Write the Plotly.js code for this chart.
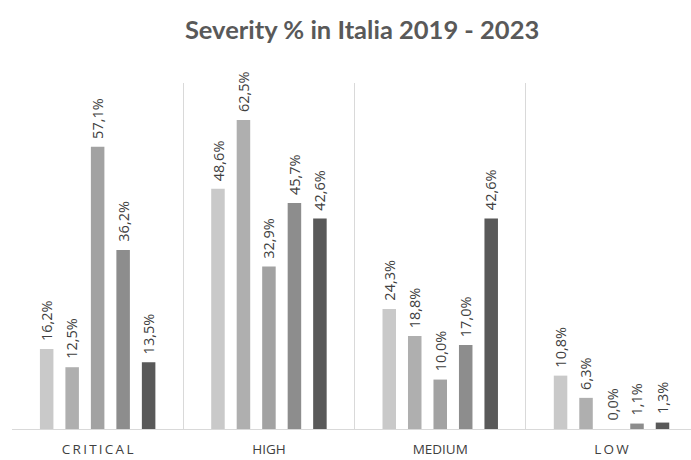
<!DOCTYPE html>
<html>
<head>
<meta charset="utf-8">
<script src="https://cdn.plot.ly/plotly-3.0.1.min.js"></script>
<style>html,body{margin:0;padding:0;background:#fff;}#chart{width:691px;height:460px;}</style>
</head>
<body>
<div id="chart"></div>
<script>
// Data
const categories = ["CRITICAL", "HIGH", "MEDIUM", "LOW"];
const tickLabels = ["C\u2009R\u2009I\u2009T\u2009I\u2009C\u2009A\u2009L", "HIGH", "MEDIUM", "L\u2009O\u2009W"];
const years = ["2019", "2020", "2021", "2022", "2023"];
const v2019 = [16.2, 48.6, 24.3, 10.8];
const v2020 = [12.5, 62.5, 18.8, 6.3];
const v2021 = [57.1, 32.9, 10.0, 0.0];
const v2022 = [36.2, 45.7, 17.0, 1.1];
const v2023 = [13.5, 42.6, 42.6, 1.3];
const series = [v2019, v2020, v2021, v2022, v2023];
const colors = ["#c9c9c9", "#afafaf", "#a2a2a2", "#8d8d8d", "#595959"];

const bargap = 0.256;
const fmt = v => v.toFixed(1).replace('.', ',') + '%';

const traces = series.map((vals, i) => ({
  type: 'bar',
  name: years[i],
  x: categories,
  y: vals,
  marker: {color: colors[i], line: {width: 0}},
  hoverinfo: 'none'
}));

const slot = (1 - bargap) / series.length;
const annotations = [];
series.forEach((vals, s) => {
  vals.forEach((v, c) => {
    annotations.push({
      x: c + (s - (series.length - 1) / 2) * slot,
      y: v,
      xref: 'x', yref: 'y',
      text: fmt(v),
      showarrow: false,
      textangle: -90,
      xanchor: 'center',
      yanchor: 'bottom',
      yshift: 6,
      font: {family: 'Open Sans, sans-serif', size: 14.5, color: '#404040'}
    });
  });
});

const layout = {
  width: 691, height: 460,
  margin: {l: 12, r: 0, t: 83, b: 31},
  paper_bgcolor: '#ffffff', plot_bgcolor: '#ffffff',
  showlegend: false,
  separators: ',.',
  bargap: bargap,
  bargroupgap: 0.47,
  title: {
    text: '<b>Severity % in Italia 2019 - 2023</b>',
    font: {family: 'Lato, sans-serif', size: 25.5, color: '#595959'},
    x: 0.524, xref: 'container', xanchor: 'center',
    y: 0.935, yref: 'container', yanchor: 'middle'
  },
  xaxis: {
    type: 'category',
    range: [-0.5, 3.464],
    tickmode: 'array',
    tickvals: categories,
    ticktext: tickLabels,
    tickson: 'boundaries',
    ticks: '',
    showgrid: true,
    gridcolor: '#d9d9d9',
    gridwidth: 1,
    showline: true,
    linecolor: '#d9d9d9',
    linewidth: 1,
    zeroline: false,
    tickfont: {family: 'Open Sans, sans-serif', size: 13.5, color: '#404040'},
    ticklabelstandoff: 8,
    fixedrange: true
  },
  yaxis: {
    range: [0, 70],
    visible: false,
    showgrid: false,
    zeroline: false,
    fixedrange: true
  },
  annotations: annotations
};

Plotly.newPlot('chart', traces, layout, {displayModeBar: false, staticPlot: true});
</script>
</body>
</html>
